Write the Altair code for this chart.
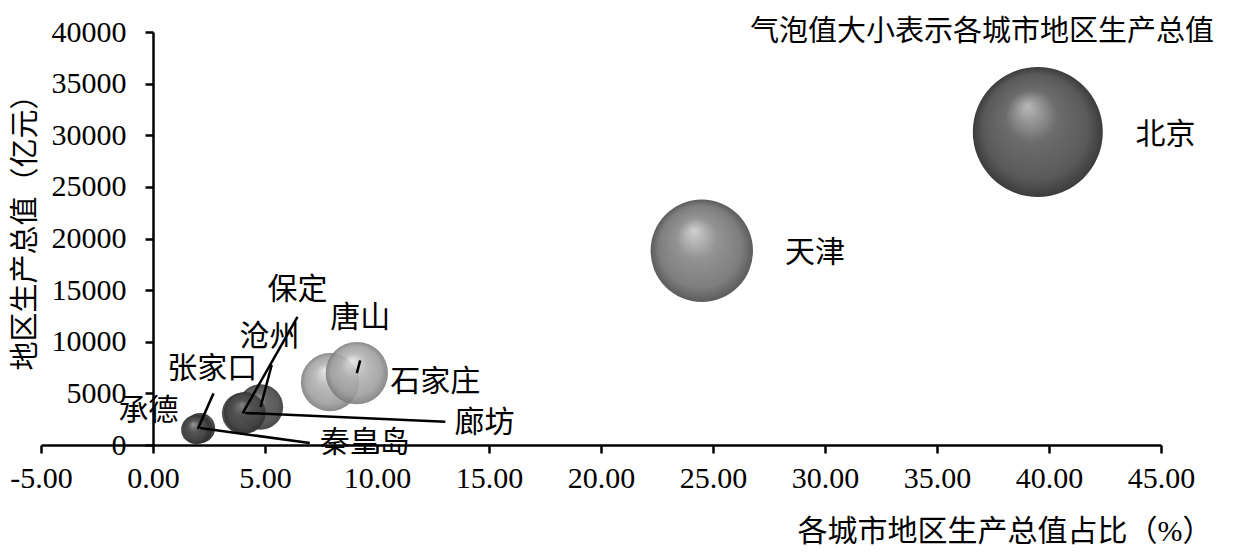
import altair as alt
import pandas as pd

# ---- data ----
cities = ["北京", "天津", "石家庄", "唐山", "秦皇岛", "保定", "张家口", "承德", "沧州", "廊坊"]
share = [39.5, 24.5, 7.9, 9.1, 2.1, 4.0, 2.0, 1.9, 4.8, 4.1]          # 各城市地区生产总值占比 (%)
gdp = [30320, 18810, 6080, 6960, 1640, 3070, 1540, 1480, 3680, 3110]   # 地区生产总值 (亿元)

# label anchor positions (data units)
label_x = [45.2, 29.55, 12.6, 9.25, 9.45, 6.45, 2.65, -0.2, 5.2, 14.8]
label_y = [30000, 18600, 6100, 12300, 200, 15000, 7400, 3300, 10450, 2150]

# leader lines: label-side end points (data units)
lead_cities = ["唐山", "秦皇岛", "保定", "张家口", "沧州", "廊坊"]
lead_x = [9.25, 7.0, 6.45, 2.7, 5.3, 13.05]
lead_y = [8200, 200, 12400, 5000, 7750, 2250]

x_ticks = [-5, 0, 5, 10, 15, 20, 25, 30, 35, 40, 45]
y_ticks = [0, 5000, 10000, 15000, 20000, 25000, 30000, 35000, 40000]

chart_title = "气泡值大小表示各城市地区生产总值"
x_title = "各城市地区生产总值占比（%）"
y_title = "地区生产总值（亿元）"

# ---- style ----
W, H = 1120, 413
PL, PT = 33, 24
SERIF = "Liberation Serif, Noto Sans CJK SC"
CJK = "Noto Sans CJK SC"

df = pd.DataFrame({"city": cities, "share": share, "gdp": gdp,
                   "label_x": label_x, "label_y": label_y})
lead_df = pd.DataFrame({"city": lead_cities, "lead_x": lead_x, "lead_y": lead_y})
lead_df = lead_df.merge(df[["city", "share", "gdp"]], on="city")

xscale = alt.Scale(domain=[-5, 45], nice=False, zero=False)
yscale = alt.Scale(domain=[0, 40000], nice=False)
sscale = alt.Scale(domain=[0, max(gdp)], range=[0, 130 ** 2], zero=True)

x_axis = alt.Axis(
    values=x_ticks,
    labelExpr="datum.value < 0 ? '-' + format(-datum.value, '.2f') : format(datum.value, '.2f')",
    title=x_title, grid=False,
    domainColor="black", domainWidth=2.5, tickColor="black", tickWidth=2.5, tickSize=8,
    labelFont=SERIF, labelFontSize=30, labelColor="black", labelPadding=10,
    labelFlush=False, labelOverlap=False,
    titleFont=SERIF, titleFontSize=30, titleFontWeight="normal", titleColor="black",
    titleX=1171, titleY=86, titleAlign="right", titleBaseline="middle",
)
y_axis = alt.Axis(
    values=y_ticks, format="d", offset=-112, title=y_title, grid=False,
    domainColor="black", domainWidth=2.5, tickColor="black", tickWidth=2.5, tickSize=8,
    labelFont=SERIF, labelFontSize=30, labelColor="black", labelPadding=19,
    labelFlush=False, labelOverlap=False,
    titleFont=SERIF, titleFontSize=29, titleFontWeight="normal", titleColor="black",
    titleAngle=270, titleX=-128, titleY=193, titleAlign="center", titleBaseline="middle",
)


def grad(hi, mid, body, edge):
    return {
        "gradient": "radial", "x1": 0.42, "y1": 0.3, "r1": 0.0,
        "x2": 0.5, "y2": 0.5, "r2": 0.5,
        "stops": [
            {"offset": 0.0, "color": hi},
            {"offset": 0.4, "color": mid},
            {"offset": 0.8, "color": body},
            {"offset": 1.0, "color": edge},
        ],
    }


tone_groups = [
    (["北京"], grad("#b8b8b8", "#6c6c6c", "#5a5a5a", "#3c3c3c"), 1.0),
    (["天津"], grad("#d0d0d0", "#939393", "#7e7e7e", "#5c5c5c"), 1.0),
    (["石家庄", "唐山"], grad("#e6e6e6", "#b2b2b2", "#9c9c9c", "#7a7a7a"), 0.88),
    (["秦皇岛", "张家口", "承德"], grad("#9a9a9a", "#555555", "#444444", "#2e2e2e"), 0.92),
    (["保定", "廊坊", "沧州"], grad("#8a8a8a", "#505050", "#444444", "#303030"), 0.88),
]

X = alt.X("share:Q", scale=xscale, axis=x_axis)
Y = alt.Y("gdp:Q", scale=yscale, axis=y_axis)

base = alt.Chart(df)
layers = []
for names, g, op in tone_groups:
    layer = base.transform_filter(
        alt.FieldOneOfPredicate(field="city", oneOf=names)
    ).mark_circle(fill=g, opacity=op, stroke=None).encode(
        x=X, y=Y,
        size=alt.Size("gdp:Q", scale=sscale, legend=None),
    )
    layers.append(layer)

leaders = alt.Chart(lead_df).mark_rule(color="black", strokeWidth=2.5).encode(
    x=X, y=Y,
    x2="lead_x:Q",
    y2="lead_y:Q",
)

labels = base.mark_text(font=CJK, fontSize=30, color="black", align="center",
                        baseline="middle").encode(
    x=alt.X("label_x:Q", scale=xscale, axis=x_axis),
    y=alt.Y("label_y:Q", scale=yscale, axis=y_axis),
    text="city:N",
)

title_txt = alt.Chart(pd.DataFrame({"t": [chart_title]})).mark_text(
    font=CJK, fontSize=29, color="black", align="right", baseline="alphabetic"
).encode(x=alt.value(1173), y=alt.value(9), text="t:N")

chart = alt.layer(*layers, leaders, labels, title_txt).properties(
    width=W, height=H,
    autosize=alt.AutoSizeParams(type="none"),
    padding={"left": PL, "top": PT, "right": 75, "bottom": 106},
).configure_view(stroke=None)

chart.save("out.html", embed_options={"renderer": "svg", "actions": False})
